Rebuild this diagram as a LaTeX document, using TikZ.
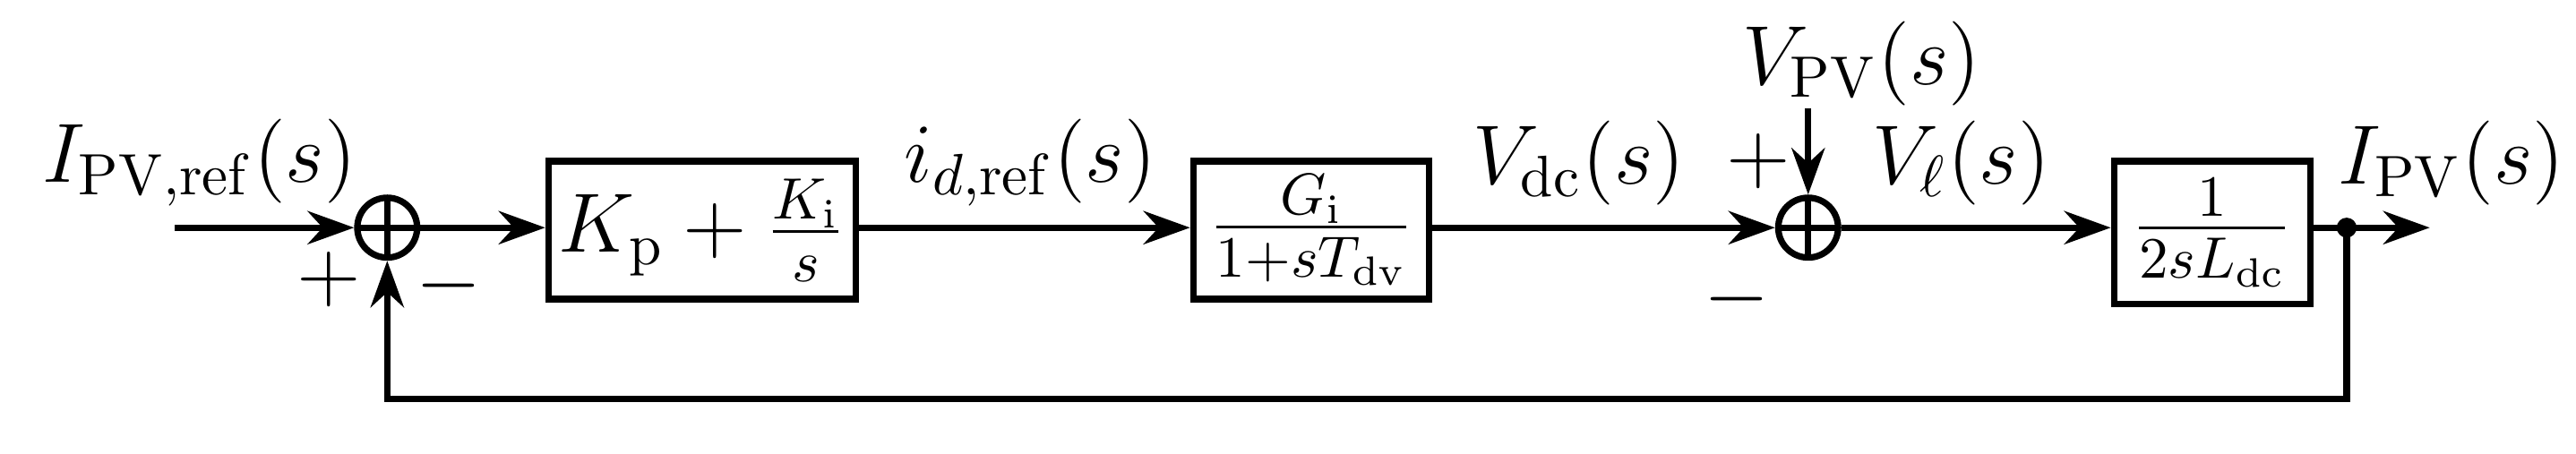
\documentclass[tikz,border=0pt]{standalone}
\usetikzlibrary{arrows.meta}
\begin{document}
\begin{tikzpicture}[x=1cm,y=1cm,line width=1.1pt,
  blk/.style={draw,rectangle,minimum height=0.83cm,inner sep=1pt},
  sumc/.style={draw,circle,minimum size=0.36cm,inner sep=0pt,path picture={\draw (path picture bounding box.north)--(path picture bounding box.south) (path picture bounding box.east)--(path picture bounding box.west);}},
  ar/.style={-{Stealth[length=0.28cm,width=0.2cm]}},
  lbl/.style={font=\fontsize{14}{16}\selectfont}]
\useasboundingbox (0,0) rectangle (15.5,-2.73);
\node[lbl] (in) at (1.2,-0.98) {$I_{\mathrm{PV,ref}}(s)$};
\coordinate (st) at (1.05,-1.37);
\node[sumc] (s1) at (2.33,-1.37) {};
\node[blk,minimum width=1.85cm,lbl] (b1) at (4.225,-1.385) {$K_{\mathrm{p}}+\frac{K_{\mathrm{i}}}{s}$};
\node[blk,minimum width=1.42cm,lbl] (b2) at (7.89,-1.385) {$\frac{G_{\mathrm{i}}}{1+sT_{\mathrm{dv}}}$};
\node[sumc] (s2) at (10.88,-1.37) {};
\node[blk,minimum width=1.18cm,minimum height=0.86cm,lbl] (b3) at (13.31,-1.4) {$\frac{1}{2sL_{\mathrm{dc}}}$};
\fill (14.12,-1.37) circle (0.06) coordinate (dot);
\coordinate (out) at (14.62,-1.37);
\coordinate (vtop) at (10.88,-0.65);
\node[lbl] (vpv) at (11.2,-0.38) {$V_{\mathrm{PV}}(s)$};
\node[lbl] (lid) at (6.2,-0.98) {$i_{d,\mathrm{ref}}(s)$};
\node[lbl] (lvdc) at (9.5,-0.98) {$V_{\mathrm{dc}}(s)$};
\node[lbl] (lvl) at (11.8,-0.98) {$V_{\ell}(s)$};
\node[lbl] (lipv) at (14.75,-0.98) {$I_{\mathrm{PV}}(s)$};
\node[lbl] (p1) at (1.98,-1.68) {$+$};
\node[lbl] (m1) at (2.7,-1.72) {$-$};
\node[lbl] (p2) at (10.58,-0.97) {$+$};
\node[lbl] (m2) at (10.45,-1.8) {$-$};
\draw[ar] (st) -- (s1.west);
\draw[ar] (s1.east) -- (b1.west |- s1.east);
\draw[ar] (b1.east |- s1) -- (b2.west |- s1);
\draw[ar] (b2.east |- s1) -- (s2.west);
\draw[ar] (s2.east) -- (b3.west |- s2);
\draw (b3.east |- s2) -- (dot);
\draw[ar] (dot) -- (out);
\draw[ar] (vtop) -- (s2.north);
\draw[ar] (dot) -- (14.12,-2.4) -- (2.33,-2.4) -- (s1.south);
\end{tikzpicture}
\end{document}
